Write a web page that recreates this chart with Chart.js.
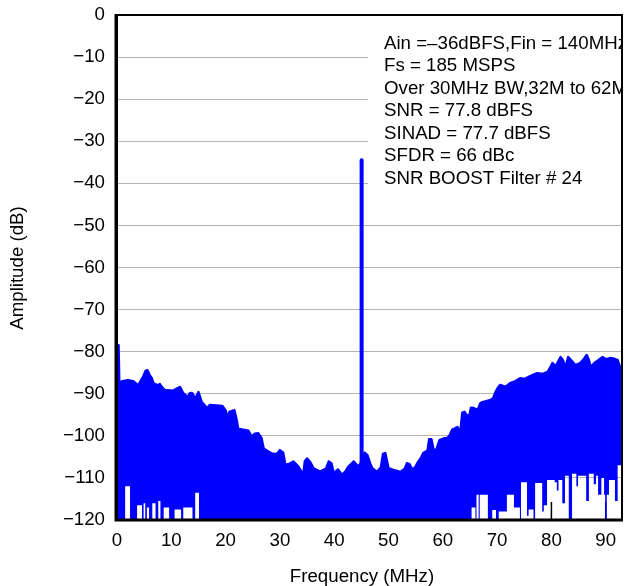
<!DOCTYPE html>
<html>
<head>
<meta charset="utf-8">
<script src="https://cdn.jsdelivr.net/npm/chart.js@4.4.1/dist/chart.umd.min.js"></script>
<style>
  html, body { margin: 0; padding: 0; background: #fff; }
  #wrap { width: 626px; height: 586px; position: relative; }
</style>
</head>
<body>
<div id="wrap"><canvas id="c"></canvas></div>
<script>
// ---- data ----
const xTickValues = [0, 10, 20, 30, 40, 50, 60, 70, 80, 90];
const yTickValues = [0, -10, -20, -30, -40, -50, -60, -70, -80, -90, -100, -110, -120];

// upper envelope of the noise floor (MHz, dB)
const topFreq = [0.0, 0.12, 0.28, 0.42, 1.0, 2.0, 3.0, 3.9, 4.8, 5.3, 5.6, 6.0, 6.4, 6.7, 7.5, 7.9, 8.3, 8.8, 10.3, 11.0, 11.6,
  12.2, 13.1, 13.4, 13.8, 14.3, 14.6, 15.0, 15.6, 16.6, 17.1, 19.4, 20.0, 20.3, 20.7, 21.6, 22.0, 22.3, 23.0, 24.2, 24.8,
  25.4, 26.0, 26.6, 27.0, 28.5, 29.4, 30.0, 30.6, 31.0, 31.8, 32.5, 33.4, 34.3, 34.6, 35.0, 35.6, 36.2, 37.4, 38.5, 39.0,
  39.5, 39.9, 40.7, 41.4, 42.0, 42.6, 43.2, 43.6, 44.4, 44.8, 45.6, 46.1, 46.6, 47.0, 47.9, 48.6, 49.0, 49.4, 49.8, 50.0,
  50.9, 52.2, 53.0, 53.4, 53.9, 54.4, 55.0, 55.3, 56.0, 56.4, 57.2, 57.5, 57.9, 58.3, 58.8, 59.4, 60.2, 60.8, 61.3, 61.7,
  62.7, 63.2, 63.6, 64.0, 64.5, 64.9, 65.2, 65.7, 66.4, 66.9, 67.3, 68.8, 69.3, 69.7, 70.2, 70.6, 71.5, 72.4, 73.4, 74.3,
  75.0, 75.8, 76.6, 77.4, 78.4, 79.3, 79.9, 80.2, 80.7, 81.2, 81.7, 82.1, 82.6, 83.1, 83.6, 84.4, 85.3, 85.9, 86.5, 86.9,
  87.2, 88.1, 88.7, 89.4, 90.1, 90.9, 91.6, 92.2, 92.7, 93.0];
const topDb = [-87, -78.5, -78.5, -87.5, -87, -86.8, -87, -88, -86, -84.5, -84.4, -85.5, -86.3, -87.5, -88, -87.7, -88.5, -89.1, -89.3, -88.8, -88.4,
  -89.9, -90.8, -89.9, -89.8, -90.8, -90.8, -89.6, -92, -93.4, -92.7, -92.9, -94, -95.8, -94.3, -93.9, -96, -98.3, -98.5, -98.8, -100.2,
  -99.5, -99.4, -100.5, -103, -104.2, -104.4, -103.4, -104, -106.9, -106.6, -106.1, -107.3, -109.3, -106, -105.4, -106.3, -107.7, -108.5, -107.8, -106.1,
  -106.6, -108.9, -108, -109.3, -108.6, -107.3, -106.6, -106.1, -107.3, -106.7, -104, -104.6, -106.5, -107.7, -108.6, -107.5, -104.3, -104.1, -106.5, -107.7,
  -108.1, -108.6, -107.8, -106.5, -106.8, -108.1, -107.3, -106.5, -105.2, -104.1, -103.5, -100.8, -100.8, -103.4, -103.3, -101, -100.6, -100.6, -99.8, -98.6,
  -97.9, -99.4, -94.5, -94.3, -95.3, -95.1, -93.3, -93.4, -93.9, -92.3, -92, -91.5, -91, -89.6, -88.5, -87.9, -88.4, -87.5, -87, -86.3,
  -86.5, -86, -85.5, -85.1, -85.3, -84.8, -83.5, -82.7, -83.5, -82.5, -81.3, -82, -83.7, -81.3, -82, -83.2, -82.7, -81.9, -80.8, -82,
  -83.7, -82.5, -82, -81.3, -81.8, -81.5, -81.7, -82, -83.9, -84];

// lower edge of the solid blue region (each value holds until the next frequency)
const floorFreq = [0, 1.5, 2.4, 3.7, 4.6, 4.9, 5.2, 5.5, 5.9, 6.5, 7.1, 7.6, 8.0, 8.6, 9.6, 10.6, 11.8, 12.2, 13.9, 14.4, 15.1,
  65.3, 66.0, 66.2, 66.6, 66.8, 68.3, 69.1, 69.8, 70.3, 71.8, 73.1, 74.2, 74.4, 75.5, 75.8, 76.7, 77.0, 78.3, 78.6, 79.2,
  80.6, 81.0, 81.3, 82.0, 82.5, 83.2, 83.8, 84.6, 84.9, 86.4, 86.9, 87.8, 88.2, 88.6, 89.2, 89.7, 89.9, 90.2, 90.6, 91.7,
  92.2, 93.0];
const floorDb = [-120, -112, -120, -116.5, -120, -116, -120, -117, -120, -116, -120, -115.5, -120, -117, -120, -117.5, -120, -117, -120, -113.5, -120,
  -117, -120, -114, -120, -114, -120, -117.6, -120, -118, -114, -117, -120, -111, -119, -117.5, -120, -111.2, -118, -116.5, -110.5,
  -111, -113, -110.5, -116, -109.5, -120, -109, -112, -109.5, -115.5, -109, -111.5, -109.5, -114, -110, -114, -120, -114, -110.5, -115.5,
  -107, -107];

// fundamental tone
const toneFreq = [45.05, 45.05];
const toneDb = [-121, -34.5];

const noteLines = [
  'Ain =\u201336dBFS,Fin = 140MHz',
  'Fs = 185 MSPS',
  'Over 30MHz BW,32M to 62M',
  'SNR = 77.8 dBFS',
  'SINAD = 77.7 dBFS',
  'SFDR = 66 dBc',
  'SNR BOOST Filter # 24'
];
const xTitle = 'Frequency (MHz)';
const yTitle = 'Amplitude (dB)';

// ---- chart ----
const FONT = '"Liberation Sans", Arial, Helvetica, sans-serif';
const FSIZE = 18.7;
const BLUE = '#0000ff';
const pts = (xs, ys) => xs.map((x, i) => ({ x: x, y: ys[i] }));

const deco = {
  id: 'deco',
  beforeDatasetsDraw(chart) {
    const { ctx, chartArea: a, scales: { x } } = chart;
    ctx.save();
    // inward x ticks (hidden by the spectrum where it is solid)
    ctx.strokeStyle = '#000';
    ctx.lineWidth = 1.5;
    xTickValues.forEach(v => {
      const px = x.getPixelForValue(v);
      ctx.beginPath();
      ctx.moveTo(px, a.bottom);
      ctx.lineTo(px, a.bottom - 18);
      ctx.stroke();
    });
    // white note box over grid
    const bx = 368;
    ctx.fillStyle = '#fff';
    ctx.fillRect(bx, a.top + 1, a.right - bx, 195 - a.top);
    ctx.beginPath();
    ctx.rect(a.left, a.top, a.right - a.left, a.bottom - a.top);
    ctx.clip();
    ctx.fillStyle = '#000';
    ctx.font = FSIZE + 'px ' + FONT;
    ctx.textBaseline = 'alphabetic';
    ctx.textAlign = 'left';
    noteLines.forEach((t, i) => ctx.fillText(t, 384, 48.5 + i * 22.5));
    ctx.restore();
  },
  afterDraw(chart) {
    const { ctx, chartArea: a } = chart;
    ctx.save();
    ctx.strokeStyle = '#000';
    ctx.lineWidth = 2;
    ctx.strokeRect(a.left, a.top, a.right - a.left, a.bottom - a.top);
    ctx.lineWidth = 3;
    ctx.beginPath();
    ctx.moveTo(a.left - 1, a.top - 1);
    ctx.lineTo(a.left - 1, a.bottom);
    ctx.lineTo(a.right + 1, a.bottom);
    ctx.stroke();
    ctx.fillStyle = '#000';
    ctx.font = FSIZE + 'px ' + FONT;
    ctx.textAlign = 'center';
    ctx.textBaseline = 'middle';
    ctx.fillText(xTitle, 362, 577);
    ctx.translate(18, 268);
    ctx.rotate(-Math.PI / 2);
    ctx.fillText(yTitle, 0, 0);
    ctx.restore();
  }
};

new Chart(document.getElementById('c'), {
  type: 'line',
  data: {
    datasets: [
      {
        data: pts(toneFreq, toneDb),
        borderColor: BLUE, borderWidth: 4, borderCapStyle: 'round',
        pointRadius: 0, fill: false
      },
      {
        data: pts(topFreq, topDb),
        borderColor: BLUE, borderWidth: 2.5, borderJoinStyle: 'round',
        backgroundColor: BLUE, pointRadius: 0, tension: 0,
        fill: '+1'
      },
      {
        data: pts(floorFreq, floorDb),
        borderWidth: 0, borderColor: 'rgba(0,0,0,0)',
        pointRadius: 0, stepped: 'before', fill: false
      }
    ]
  },
  options: {
    responsive: true,
    maintainAspectRatio: false,
    animation: false,
    events: [],
    layout: { padding: { top: 15, right: 4, bottom: 0, left: 0 } },
    plugins: { legend: { display: false }, tooltip: { enabled: false } },
    scales: {
      x: {
        type: 'linear', min: 0, max: 93,
        afterFit(s) { s.height = 66; s.paddingLeft = 0; s.paddingRight = 0; },
        afterBuildTicks(s) { s.ticks = xTickValues.map(v => ({ value: v })); },
        grid: { display: false, drawTicks: false },
        border: { display: false },
        ticks: { color: '#000', font: { family: FONT, size: FSIZE }, padding: 10, maxRotation: 0, autoSkip: false }
      },
      y: {
        type: 'linear', min: -120, max: 0,
        afterFit(s) { s.width = 117; s.paddingTop = 0; s.paddingBottom = 0; },
        afterBuildTicks(s) { s.ticks = yTickValues.map(v => ({ value: v })); },
        grid: { color: '#b4b4b4', lineWidth: 1, drawTicks: false },
        border: { display: false },
        ticks: {
          color: '#000', font: { family: FONT, size: FSIZE }, padding: 12,
          callback: v => (v < 0 ? '\u2212' + Math.abs(v) : String(v))
        }
      }
    }
  },
  plugins: [deco]
});
</script>
</body>
</html>
